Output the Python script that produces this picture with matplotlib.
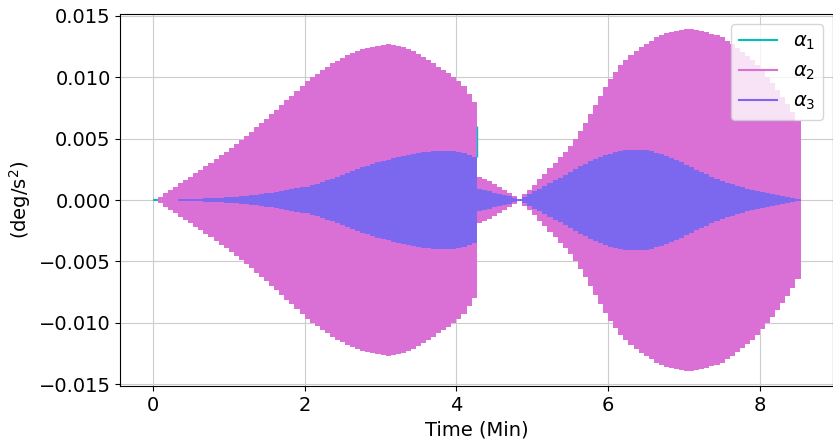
import numpy as np
import matplotlib.pyplot as plt
from matplotlib.lines import Line2D

dt = 4 / 60  # controller update period, minutes

# amplitude of each update step, 1e-3 deg/s^2 (the signal swings +/- this value)
alpha2_amp = [
    0.00, 0.27, 0.54, 0.81, 1.08, 1.36, 1.63, 1.91, 2.19, 2.47, 2.76, 3.05, 3.34, 3.64, 3.94,
    4.25, 4.57, 4.90, 5.24, 5.58, 5.93, 6.28, 6.64, 7.00, 7.37, 7.74, 8.11, 8.50, 8.90, 9.30,
    9.70, 10.00, 10.30, 10.60, 10.88, 11.13, 11.37, 11.60, 11.80, 11.98, 12.14, 12.29, 12.41, 12.51, 12.59,
    12.66, 12.68, 12.64, 12.57, 12.46, 12.30, 12.12, 11.92, 11.68, 11.42, 11.15, 10.88, 10.60, 10.32, 10.04,
    9.70, 9.30, 8.60, 8.00,
    1.90, 1.72, 1.52, 1.30, 1.06, 0.80, 0.55, 0.30, 0.08, 0.45, 0.85,
    1.25, 1.68, 2.12, 2.58, 3.05, 3.50, 3.95, 4.42, 4.95, 5.60, 6.30, 7.00, 7.75, 8.50, 9.20,
    9.85, 10.45, 11.00, 11.45, 11.85, 12.18, 12.48, 12.75, 13.00, 13.25, 13.45, 13.60, 13.72, 13.80, 13.86,
    13.90, 13.90, 13.87, 13.80, 13.70, 13.57, 13.42, 13.25, 13.00, 12.70, 12.40, 12.10, 11.75, 11.38, 11.00,
    10.55, 10.05, 9.50, 8.95, 8.40, 7.80, 7.15, 6.40,
]
alpha3_amp = [
    0.00, 0.01, 0.02, 0.03, 0.04, 0.05, 0.06, 0.08, 0.09, 0.11, 0.13, 0.15, 0.17, 0.20, 0.22,
    0.25, 0.28, 0.31, 0.35, 0.39, 0.43, 0.48, 0.53, 0.59, 0.65, 0.71, 0.78, 0.86, 0.94, 1.02,
    1.10, 1.20, 1.32, 1.45, 1.60, 1.75, 1.90, 2.05, 2.20, 2.35, 2.50, 2.65, 2.80, 2.94, 3.07,
    3.20, 3.30, 3.40, 3.50, 3.58, 3.66, 3.74, 3.82, 3.88, 3.94, 3.98, 4.00, 4.01, 4.00, 3.98,
    3.92, 3.83, 3.70, 3.52,
    0.90, 0.80, 0.70, 0.60, 0.50, 0.40, 0.30, 0.18, 0.05, 0.25, 0.48,
    0.70, 0.92, 1.14, 1.37, 1.60, 1.83, 2.06, 2.29, 2.52, 2.74, 2.95, 3.15, 3.34, 3.51, 3.66,
    3.79, 3.90, 3.98, 4.04, 4.08, 4.10, 4.08, 4.04, 3.97, 3.87, 3.75, 3.60, 3.44, 3.26, 3.07,
    2.87, 2.67, 2.47, 2.27, 2.08, 1.90, 1.73, 1.57, 1.42, 1.28, 1.15, 1.03, 0.92, 0.82, 0.72,
    0.63, 0.54, 0.45, 0.37, 0.29, 0.21, 0.14, 0.07,
]
# alpha1 is logged at a coarser rate
alpha1_t = [0, 0.5, 1.0, 1.5, 2.0, 2.5, 3.0, 3.5, 4.0, 4.27, 4.8, 5.3, 5.8, 6.3, 6.8, 7.3, 7.8, 8.3, 8.53]
alpha1_amp = [0.1, 1.5, 3.1, 4.7, 6.5, 8.0, 8.6, 8.0, 6.5, 0.2, 0.05, 2.5, 5.0, 8.0, 9.3, 9.0, 6.5, 4.5, 4.5]
alpha1_jump = 6.0  # spike logged at the mode switch
switch_idx = 64

t = np.arange(len(alpha2_amp) + 1) * dt
a2 = np.append(alpha2_amp, alpha2_amp[-1]) * 1e-3
a3 = np.append(alpha3_amp, alpha3_amp[-1]) * 1e-3
a1 = np.array(alpha1_amp) * 1e-3

colors = ['c', 'orchid', 'mediumslateblue']

fig = plt.figure(figsize=(8.33, 4.42), dpi=100)
ax = fig.add_axes([120.4 / 833, 56 / 442, 712.5 / 833, 372 / 442])

ax.fill_between(alpha1_t, -a1, a1, step='post', color=colors[0], lw=0)
ax.vlines(t[switch_idx], alpha3_amp[switch_idx - 1] * 1e-3, alpha1_jump * 1e-3, color=colors[0], lw=1.0)
ax.fill_between(t, -a2, a2, step='post', color=colors[1], lw=0)
ax.fill_between(t, -a3, a3, step='post', color=colors[2], lw=0)

ax.set_xlim(-0.4267, 8.96)
ax.set_ylim(-0.01516, 0.01516)
ax.grid(True, color='#cccccc')
ax.set_axisbelow(True)
ax.tick_params(labelsize=14)
ax.set_xlabel('Time (Min)', fontsize=14)
ax.set_ylabel('(deg/s$^2$)', fontsize=14)

handles = [Line2D([], [], color=c, lw=1.5) for c in colors]
ax.legend(handles, [r'$\alpha_1$', r'$\alpha_2$', r'$\alpha_3$'], loc='upper right', fontsize=14)

fig.savefig('out.png', dpi=100)
